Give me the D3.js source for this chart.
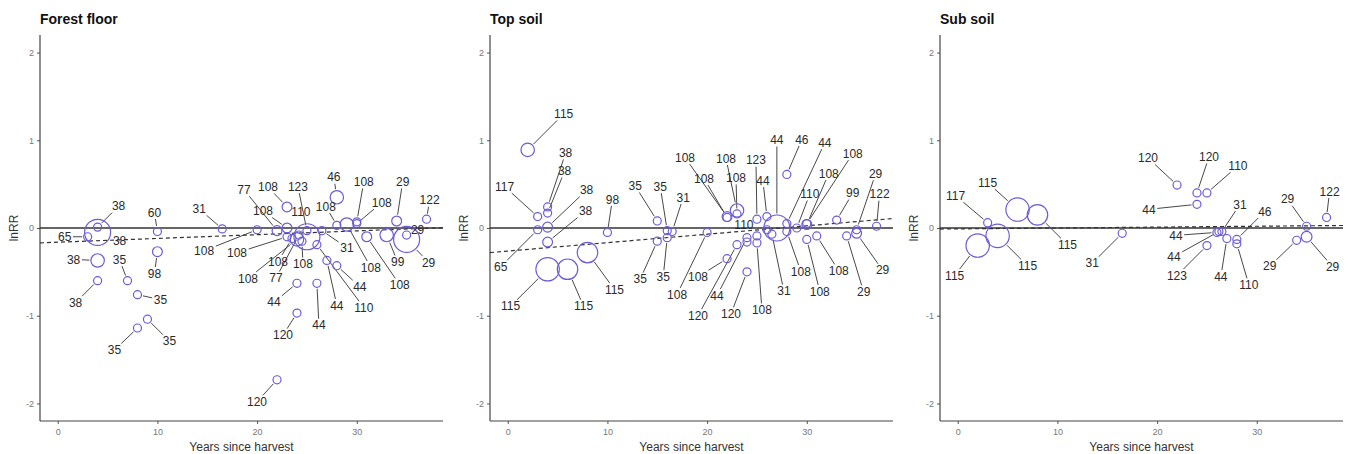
<!DOCTYPE html>
<html>
<head>
<meta charset="utf-8">
<script src="https://cdn.jsdelivr.net/npm/d3@7"></script>
<style>
  body { margin: 0; background: #fff; }
  text { font-family: "Liberation Sans", Arial, sans-serif; }
</style>
</head>
<body>
<div class="chart"></div>
<script>
const width = 1349;
const height = 454;

const panelTitles = ["Forest floor", "Top soil", "Sub soil"];
const xTicks = [0, 10, 20, 30];
const yTicks = [-2, -1, 0, 1, 2];

// meta-regression trend per panel (intercept, slope)
const trendIntercept = [-0.162, -0.263, -0.01];
const trendSlope = [0.0043, 0.0096, 0.001];

// forest floor
const ffYears = [4, 4, 3, 4, 4, 7, 8, 8, 9, 10, 10, 16.5, 20, 22, 23, 23, 23, 24, 24.2, 23.5, 25, 25, 24.5, 26, 26.5, 28, 28, 29, 30, 30, 31, 33, 34, 35, 35, 37, 27, 28, 24, 26, 24, 22];
const ffLnRR = [0.01, -0.05, -0.10, -0.37, -0.60, -0.60, -0.76, -1.14, -1.04, -0.04, -0.27, -0.01, -0.02, -0.03, 0.24, 0.00, -0.10, -0.13, -0.08, -0.12, -0.03, -0.10, -0.15, -0.19, -0.03, 0.35, 0.03, 0.04, 0.07, 0.05, -0.10, -0.08, 0.08, -0.08, -0.13, 0.10, -0.37, -0.43, -0.63, -0.63, -0.97, -1.73];
const ffWeight = [1, 10.5, 1, 2.8, 1, 1, 1, 1, 1, 1, 1.5, 1, 1, 1.5, 1.5, 1.5, 1, 2.8, 1, 1, 1, 10.5, 1, 1, 1, 2.8, 1, 2.8, 1, 1, 1.5, 2.8, 1.5, 1, 10.5, 1, 1, 1, 1, 1, 1, 1];
const ffStudy = ["38", "38", "65", "38", "38", "35", "35", "35", "35", "60", "98", "31", "108", "77", "108", "108", "108", "108", "77", "108", "123", "110", "108", "110", "31", "46", "108", "108", "108", "108", "108", "99", "29", "29", "29", "122", "44", "44", "44", "44", "120", "120"];
const ffLabelOffset = [[21, -21], [22, 8], [-23, 0], [-24, -1], [-22, 22], [-8, -21], [23, 5], [-23, 22], [22, 22], [-3, -19], [-3, 22], [-23, -20], [-53, 21], [-33, -41], [-19, -20], [-24, -17], [-50, 16], [-49, 39], [-23, 43], [-14, 23], [-9, -44], [-6, -25], [1, 23], [47, 63], [25, 17], [-3, -20], [-11, -19], [24, 43], [7, -40], [25, -21], [33, 48], [11, 27], [6, -39], [11, -5], [22, 23], [3, -19], [10, 45], [23, 21], [-23, 19], [2, 42], [-14, 22], [-20, 22]];

// top soil
const tsYears = [2, 3, 3, 4, 4, 4, 4, 4, 6, 8, 10, 15, 15, 16, 16, 16.5, 20, 22, 22, 23, 23, 25, 26, 22, 23, 24, 24, 24, 25, 25, 26, 26.5, 27, 28, 28, 28, 29, 30, 30, 30, 31, 33, 34, 35, 35, 37];
const tsLnRR = [0.89, 0.13, -0.02, 0.24, 0.17, 0.01, -0.16, -0.47, -0.47, -0.28, -0.05, 0.08, -0.15, -0.03, -0.11, -0.04, -0.05, 0.13, 0.12, 0.20, 0.16, 0.10, 0.13, -0.35, -0.19, -0.11, -0.16, -0.50, -0.09, -0.17, -0.02, -0.07, 0.00, 0.61, 0.05, -0.04, 0.00, 0.04, 0.05, -0.13, -0.09, 0.09, -0.09, -0.02, -0.06, 0.02];
const tsWeight = [2.8, 1, 1, 1, 1, 1.5, 1.5, 8.5, 6.5, 6.5, 1, 1, 1, 1, 1, 1, 1, 1.5, 1, 2.8, 1, 1, 1, 1, 1, 1, 1, 1, 1, 1, 1, 1, 10.5, 1, 1, 1, 1, 1.5, 1, 1, 1, 1, 1, 1, 1.5, 1];
const tsStudy = ["115", "117", "65", "38", "38", "38", "38", "115", "115", "115", "98", "35", "35", "35", "35", "31", "108", "108", "108", "108", "108", "123", "44", "108", "120", "44", "", "120", "110", "108", "", "31", "44", "46", "44", "108", "110", "108", "108", "108", "108", "99", "29", "29", "29", "122"];
const tsLabelOffset = [[36, -36], [-33, -30], [-37, 37], [18, -54], [17, -42], [39, -37], [38, -31], [-37, 37], [16, 37], [27, 37], [5, -33], [-22, -35], [-17, 38], [-7, -44], [-4, 39], [11, -34], [-30, 62], [-42, -59], [-23, -39], [-11, -52], [-1, -36], [-1, -59], [-4, -36], [-29, 18], [-39, 71], [-30, 58], [0, 0], [-16, 42], [-13, -11], [5, 67], [0, 0], [12, 57], [0, -88], [15, -35], [38, -81], [14, 40], [13, -34], [22, -51], [46, -70], [13, 52], [22, 35], [16, -27], [17, 56], [19, -56], [26, 37], [3, -32]];

// sub soil
const ssYears = [3, 2, 4, 6, 8, 16.5, 22, 24, 25, 24, 26, 26.2, 26.5, 27, 28, 28, 25, 34, 35, 35, 37];
const ssLnRR = [0.06, -0.20, -0.09, 0.21, 0.15, -0.06, 0.49, 0.40, 0.40, 0.27, -0.05, -0.04, -0.04, -0.12, -0.13, -0.18, -0.20, -0.14, 0.02, -0.10, 0.12];
const ssWeight = [1, 8.5, 8.5, 8.5, 6.5, 1, 1, 1, 1, 1, 1, 1, 1, 1, 1, 1, 1, 1, 1, 1.8, 1];
const ssStudy = ["117", "115", "115", "115", "115", "31", "120", "120", "110", "44", "44", "44", "31", "44", "46", "110", "123", "29", "29", "29", "122"];
const ssLabelOffset = [[-32, -27], [-23, 30], [30, 30], [-30, -27], [30, 30], [-30, 30], [-29, -27], [12, -36], [31, -27], [-48, 5], [-41, 3], [-45, 25], [18, -27], [-6, 38], [28, -28], [12, 41], [-30, 30], [-27, 26], [-19, -27], [26, 30], [3, -26]];

const panels = [
  { years: ffYears, lnrr: ffLnRR, weight: ffWeight, study: ffStudy, offset: ffLabelOffset },
  { years: tsYears, lnrr: tsLnRR, weight: tsWeight, study: tsStudy, offset: tsLabelOffset },
  { years: ssYears, lnrr: ssLnRR, weight: ssWeight, study: ssStudy, offset: ssLabelOffset }
];

const panelWidth = 450;
const plotLeft = 40, plotRight = 443, plotTop = 35, plotBottom = 421;
const pointColor = "#6b5cd6";
const inkColor = "#333";

const svg = d3.select(".chart").append("svg")
  .attr("width", width)
  .attr("height", height);

const x = d3.scaleLinear().domain([-1.78, 38.65]).range([plotLeft, plotRight]);
const y = d3.scaleLinear().domain([-2.2, 2.2]).range([plotBottom, plotTop]);
const r = d3.scaleSqrt().domain([0, 10.5]).range([0, 13]);

panels.forEach((p, i) => {
  const g = svg.append("g").attr("transform", `translate(${i * panelWidth},0)`);

  // axes
  const xAxis = g.append("g")
    .attr("transform", `translate(0,${plotBottom})`)
    .call(d3.axisBottom(x).tickValues(xTicks).tickSize(3).tickPadding(5).tickFormat(d => String(d)));
  const yAxis = g.append("g")
    .attr("transform", `translate(${plotLeft},0)`)
    .call(d3.axisLeft(y).tickValues(yTicks).tickSize(3).tickPadding(3).tickFormat(d => String(d)));
  [xAxis, yAxis].forEach(a => {
    a.select(".domain").remove();
    a.selectAll(".tick line").attr("stroke", "#555");
    a.selectAll(".tick text").attr("fill", "#777").attr("font-size", 9)
      .style("font-family", "'Liberation Sans', Arial, sans-serif");
  });
  g.append("line").attr("x1", plotLeft).attr("x2", plotRight)
    .attr("y1", plotBottom).attr("y2", plotBottom).attr("stroke", "#444").attr("stroke-width", 1.2);
  g.append("line").attr("x1", plotLeft).attr("x2", plotLeft)
    .attr("y1", plotTop).attr("y2", plotBottom).attr("stroke", "#444").attr("stroke-width", 1.2);

  // titles
  g.append("text").attr("x", plotLeft).attr("y", 24)
    .attr("font-size", 14).attr("font-weight", "bold").attr("fill", "#111")
    .text(panelTitles[i]);
  g.append("text").attr("x", (plotLeft + plotRight) / 2).attr("y", 451)
    .attr("text-anchor", "middle").attr("font-size", 12).attr("fill", "#333")
    .text("Years since harvest");
  g.append("text").attr("transform", `translate(18,${y(0)}) rotate(-90)`)
    .attr("text-anchor", "middle").attr("font-size", 12).attr("fill", "#333")
    .text("lnRR");

  // zero line and trend
  g.append("line").attr("x1", plotLeft).attr("x2", plotRight)
    .attr("y1", y(0)).attr("y2", y(0)).attr("stroke", inkColor).attr("stroke-width", 1.3);
  const x0 = x.domain()[0], x1 = x.domain()[1];
  g.append("line")
    .attr("x1", x(x0)).attr("y1", y(trendIntercept[i] + trendSlope[i] * x0))
    .attr("x2", x(x1)).attr("y2", y(trendIntercept[i] + trendSlope[i] * x1))
    .attr("stroke", inkColor).attr("stroke-width", 1.2).attr("stroke-dasharray", "4,3");

  const rows = p.years.map((yr, k) => ({
    yr, v: p.lnrr[k], w: p.weight[k], label: p.study[k], off: p.offset[k]
  }));

  // leader segments
  rows.forEach(d => {
    if (!d.label) return;
    const px = x(d.yr), py = y(d.v);
    const lx = px + d.off[0], ly = py + d.off[1];
    const dx = px - lx, dy = py - ly;
    const len = Math.hypot(dx, dy);
    if (len < 1) return;
    const hw = d.label.length * 3.4 + 1.5, hh = 6.5;
    const t = Math.min(dx ? hw / Math.abs(dx) : Infinity, dy ? hh / Math.abs(dy) : Infinity);
    if (t >= 1) return;
    const ex = lx + dx * t, ey = ly + dy * t;
    const rad = r(d.w) + 1.5;
    const sx = px - dx / len * rad, sy = py - dy / len * rad;
    if (Math.hypot(sx - ex, sy - ey) < 5 || (sx - ex) * dx < 0 && (sy - ey) * dy < 0) return;
    g.append("line").attr("x1", sx).attr("y1", sy).attr("x2", ex).attr("y2", ey)
      .attr("stroke", inkColor).attr("stroke-width", 0.9);
  });

  // points
  g.selectAll("circle").data(rows).enter().append("circle")
    .attr("cx", d => x(d.yr))
    .attr("cy", d => y(d.v))
    .attr("r", d => r(d.w))
    .attr("fill", "none")
    .attr("stroke", pointColor)
    .attr("stroke-width", 1.2);

  // study labels
  g.selectAll("text.lab").data(rows.filter(d => d.label)).enter().append("text")
    .attr("class", "lab")
    .attr("x", d => x(d.yr) + d.off[0])
    .attr("y", d => y(d.v) + d.off[1])
    .attr("dy", "0.35em")
    .attr("text-anchor", "middle")
    .attr("font-size", 12)
    .attr("fill", "#2a2a2a")
    .text(d => d.label);
});
</script>
</body>
</html>
